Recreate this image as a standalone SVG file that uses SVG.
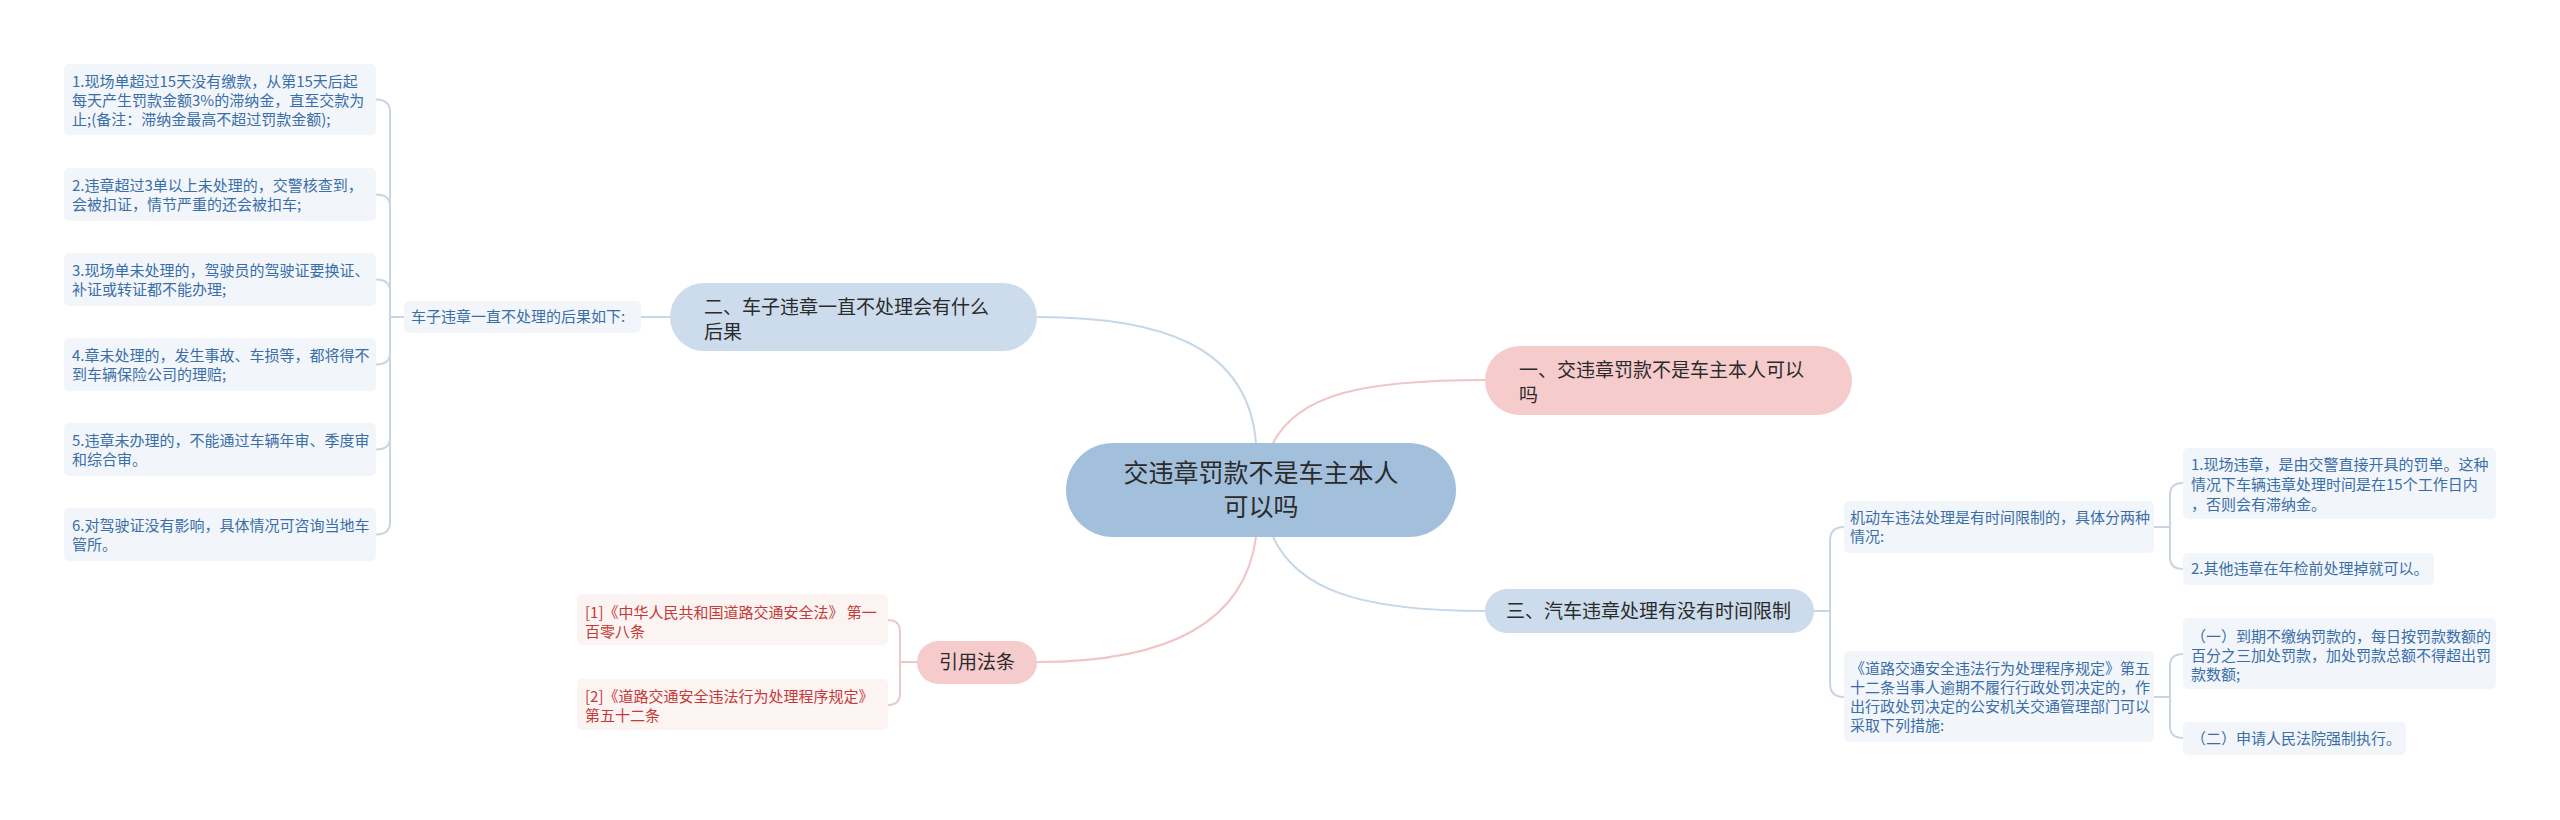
<svg xmlns="http://www.w3.org/2000/svg" width="2560" height="820" viewBox="0 0 2560 820">
<style>
text{font-family:"Noto Sans CJK SC","Liberation Sans",sans-serif;}
.main{font-size:25px;fill:#2b2b2b;text-anchor:middle;}
.sub{font-size:19px;fill:#2b2b2b;}
.leaf{font-size:15px;fill:#3a6ea8;}
.ref{font-size:15px;fill:#c43a35;}
.lbox{fill:#f2f6fb;}
.rbox{fill:#fcf3f3;}
.blue{fill:none;stroke:#c6d7e8;stroke-width:2;}
.pink{fill:none;stroke:#efc5c7;stroke-width:2;}
.brk{fill:none;stroke:#c9d5e3;stroke-width:2;}
.brkp{fill:none;stroke:#ecc8ca;stroke-width:2;}
</style>
<rect width="2560" height="820" fill="#ffffff"/>
<g id="connectors">
<path class="blue" d="M1256 443 C1248 345 1160 317 1037 317"/>
<path class="pink" d="M1273 443 C1298 395 1360 380 1485 380"/>
<path class="blue" d="M1273 537 C1298 590 1360 611 1485 611"/>
<path class="pink" d="M1256 537 C1244 628 1160 662 1037 662"/>
<path class="blue" d="M641 317 L670 317"/>
<path class="brk" d="M404 317 L390 317"/>
<path class="brk" d="M376 99.5 Q390 99.5 390 112 L390 522 Q390 534.5 376 534.5"/>
<path class="brk" d="M376 194.5 Q390 194.5 390 206"/>
<path class="brk" d="M376 279.5 Q390 279.5 390 291"/>
<path class="brk" d="M376 364.5 Q390 364.5 390 353"/>
<path class="brk" d="M376 449.5 Q390 449.5 390 438"/>
<path class="brkp" d="M917 662 L900 662"/>
<path class="brkp" d="M888 620 Q900 620 900 632 L900 693 Q900 705 888 705"/>
<path class="brk" d="M1814 611 L1830 611"/>
<path class="brk" d="M1844 527 Q1830 527 1830 541 L1830 683 Q1830 697 1844 697"/>
<path class="brk" d="M2154 527 L2170 527"/>
<path class="brk" d="M2183 483 Q2170 483 2170 495 L2170 557 Q2170 569 2183 569"/>
<path class="brk" d="M2154 697 L2170 697"/>
<path class="brk" d="M2183 654 Q2170 654 2170 666 L2170 726 Q2170 738 2183 738"/>
</g>
<g id="center">
<rect x="1066" y="443" width="390" height="94" rx="47" fill="#a2bfdc"/>
<text class="main" x="1261" y="482">交违章罚款不是车主本人</text>
<text class="main" x="1261" y="516">可以吗</text>
</g>
<g id="n1">
<rect x="1485" y="346" width="367" height="69" rx="34.5" fill="#f6cbcc"/>
<text class="sub" x="1519" y="377">一、交违章罚款不是车主本人可以</text>
<text class="sub" x="1519" y="402">吗</text>
</g>
<g id="n2">
<rect x="670" y="283" width="367" height="68" rx="34" fill="#ccdcec"/>
<text class="sub" x="704" y="314">二、车子违章一直不处理会有什么</text>
<text class="sub" x="704" y="339">后果</text>
</g>
<g id="n3">
<rect x="1485" y="589" width="329" height="44" rx="22" fill="#ccdcec"/>
<text class="sub" x="1506" y="618">三、汽车违章处理有没有时间限制</text>
</g>
<g id="n4">
<rect x="917" y="641" width="120" height="43" rx="21.5" fill="#f6cbcc"/>
<text class="sub" x="977" y="669" text-anchor="middle">引用法条</text>
</g>
<g id="n2a">
<rect class="lbox" x="404" y="301" width="237" height="32" rx="5"/>
<text class="leaf" x="411" y="322">车子违章一直不处理的后果如下:</text>
</g>
<g id="n2a1">
<rect class="lbox" x="64" y="64" width="312" height="71" rx="5"/>
<text class="leaf" x="72" y="87">1.现场单超过15天没有缴款，从第15天后起</text>
<text class="leaf" x="72" y="106">每天产生罚款金额3%的滞纳金，直至交款为</text>
<text class="leaf" x="72" y="125">止;(备注：滞纳金最高不超过罚款金额);</text>
</g>
<g id="n2a2">
<rect class="lbox" x="64" y="168" width="312" height="53" rx="5"/>
<text class="leaf" x="72" y="191">2.违章超过3单以上未处理的，交警核查到，</text>
<text class="leaf" x="72" y="210">会被扣证，情节严重的还会被扣车;</text>
</g>
<g id="n2a3">
<rect class="lbox" x="64" y="253" width="312" height="53" rx="5"/>
<text class="leaf" x="72" y="276">3.现场单未处理的，驾驶员的驾驶证要换证、</text>
<text class="leaf" x="72" y="295">补证或转证都不能办理;</text>
</g>
<g id="n2a4">
<rect class="lbox" x="64" y="338" width="312" height="53" rx="5"/>
<text class="leaf" x="72" y="361">4.章未处理的，发生事故、车损等，都将得不</text>
<text class="leaf" x="72" y="380">到车辆保险公司的理赔;</text>
</g>
<g id="n2a5">
<rect class="lbox" x="64" y="423" width="312" height="53" rx="5"/>
<text class="leaf" x="72" y="446">5.违章未办理的，不能通过车辆年审、季度审</text>
<text class="leaf" x="72" y="465">和综合审。</text>
</g>
<g id="n2a6">
<rect class="lbox" x="64" y="508" width="312" height="53" rx="5"/>
<text class="leaf" x="72" y="531">6.对驾驶证没有影响，具体情况可咨询当地车</text>
<text class="leaf" x="72" y="550">管所。</text>
</g>
<g id="n3a">
<rect class="lbox" x="1844" y="501" width="310" height="52" rx="5"/>
<text class="leaf" x="1850" y="523">机动车违法处理是有时间限制的，具体分两种</text>
<text class="leaf" x="1850" y="542">情况:</text>
</g>
<g id="n3a1">
<rect class="lbox" x="2183" y="448" width="313" height="71" rx="5"/>
<text class="leaf" x="2191" y="470">1.现场违章，是由交警直接开具的罚单。这种</text>
<text class="leaf" x="2191" y="490">情况下车辆违章处理时间是在15个工作日内</text>
<text class="leaf" x="2191" y="510">，否则会有滞纳金。</text>
</g>
<g id="n3a2">
<rect class="lbox" x="2183" y="553" width="251" height="32" rx="5"/>
<text class="leaf" x="2191" y="574">2.其他违章在年检前处理掉就可以。</text>
</g>
<g id="n3b">
<rect class="lbox" x="1844" y="651" width="310" height="91" rx="5"/>
<text class="leaf" x="1850" y="674">《道路交通安全违法行为处理程序规定》第五</text>
<text class="leaf" x="1850" y="693">十二条当事人逾期不履行行政处罚决定的，作</text>
<text class="leaf" x="1850" y="712">出行政处罚决定的公安机关交通管理部门可以</text>
<text class="leaf" x="1850" y="731">采取下列措施:</text>
</g>
<g id="n3b1">
<rect class="lbox" x="2183" y="618" width="313" height="71" rx="5"/>
<text class="leaf" x="2191" y="642">（一）到期不缴纳罚款的，每日按罚款数额的</text>
<text class="leaf" x="2191" y="661">百分之三加处罚款，加处罚款总额不得超出罚</text>
<text class="leaf" x="2191" y="680">款数额;</text>
</g>
<g id="n3b2">
<rect class="lbox" x="2183" y="722" width="223" height="33" rx="5"/>
<text class="leaf" x="2191" y="744">（二）申请人民法院强制执行。</text>
</g>
<g id="n4a">
<rect class="rbox" x="577" y="594" width="311" height="51" rx="5"/>
<text class="ref" x="585" y="618">[1]《中华人民共和国道路交通安全法》 第一</text>
<text class="ref" x="585" y="637">百零八条</text>
</g>
<g id="n4b">
<rect class="rbox" x="577" y="679" width="311" height="51" rx="5"/>
<text class="ref" x="585" y="702">[2]《道路交通安全违法行为处理程序规定》</text>
<text class="ref" x="585" y="721">第五十二条</text>
</g>
</svg>
